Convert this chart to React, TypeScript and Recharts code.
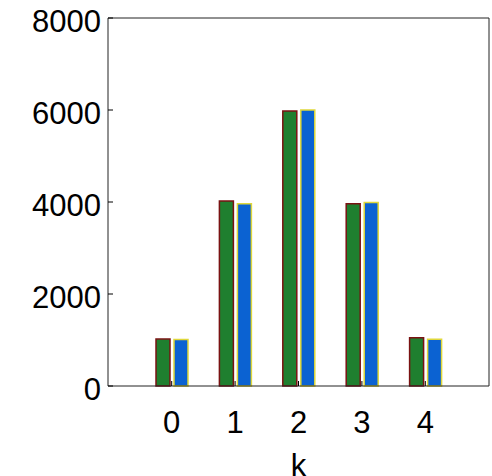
import { BarChart, Bar, XAxis, YAxis } from "recharts";

const CATEGORIES = ["0", "1", "2", "3", "4"];
const GREEN_VALUES = [1020, 4020, 5980, 3960, 1050];
const BLUE_VALUES = [1010, 3960, 6000, 3990, 1015];
const Y_TICKS = [0, 2000, 4000, 6000, 8000];

const data = CATEGORIES.map((k, i) => ({
  k,
  green: GREEN_VALUES[i],
  blue: BLUE_VALUES[i],
}));

const FONT = "'Liberation Sans', Arial, Helvetica, sans-serif";
const xTickStyle = { fill: "#000", fontSize: 31, fontFamily: FONT };
const yTickStyle = { fill: "#000", fontSize: 31, fontFamily: FONT, dy: 3 };

export default function App() {
  return (
    <div style={{ position: "absolute", left: 0, top: 0, width: 492, height: 476 }}>
      <style>{`html, body { margin: 0; padding: 0; overflow: hidden; }`}</style>
      <BarChart
        width={492}
        height={476}
        data={data}
        margin={{ top: 17, right: 2, left: 0, bottom: 0 }}
        barSize={14}
        barGap={4}
      >
        <XAxis
          xAxisId="b"
          dataKey="k"
          height={90}
          padding={{ left: 32, right: 32 }}
          tick={xTickStyle}
          tickSize={-5}
          tickMargin={30}
          tickLine={{ stroke: "#000" }}
          axisLine={{ stroke: "#222" }}
          label={{
            value: "k",
            position: "insideBottom",
            offset: 0,
            style: { fill: "#000", fontSize: 31, fontFamily: FONT },
          }}
        />
        <XAxis
          xAxisId="t"
          dataKey="k"
          orientation="top"
          height={1}
          tick={false}
          tickLine={false}
          axisLine={{ stroke: "#222" }}
        />
        <YAxis
          yAxisId="l"
          width={108}
          domain={[0, 8000]}
          ticks={Y_TICKS}
          interval={0}
          tick={yTickStyle}
          tickSize={-5}
          tickMargin={12}
          tickLine={{ stroke: "#000" }}
          axisLine={{ stroke: "#222" }}
        />
        <YAxis
          yAxisId="r"
          orientation="right"
          width={1}
          domain={[0, 8000]}
          ticks={Y_TICKS}
          tick={false}
          tickLine={false}
          axisLine={{ stroke: "#222" }}
        />
        <Bar
          xAxisId="b"
          yAxisId="l"
          dataKey="green"
          fill="#1f7f2f"
          stroke="#7a1212"
          strokeWidth={1.5}
          isAnimationActive={false}
        />
        <Bar
          xAxisId="b"
          yAxisId="l"
          dataKey="blue"
          fill="#0b62d2"
          stroke="#e0d83a"
          strokeWidth={1.5}
          isAnimationActive={false}
        />
      </BarChart>
    </div>
  );
}
